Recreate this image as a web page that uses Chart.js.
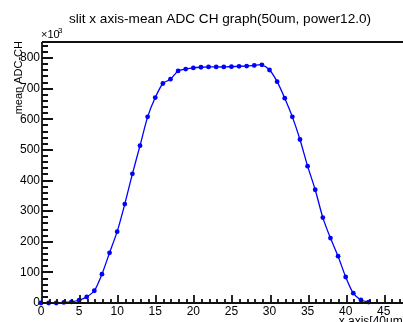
<!DOCTYPE html>
<html>
<head>
<meta charset="utf-8">
<script src="https://cdn.jsdelivr.net/npm/chart.js@4.4.0/dist/chart.umd.min.js"></script>
<style>
  html, body { margin: 0; padding: 0; background: #fff; }
  #wrap { width: 403px; height: 322px; position: relative; }
</style>
</head>
<body>
<div id="wrap"><canvas id="graph"></canvas></div>
<script>
// ===== slit x scan: mean ADC per position =====
const xPositions = [0, 1, 2, 3, 4, 5, 6, 7, 8, 9, 10, 11, 12, 13, 14, 15, 16, 17, 18, 19, 20, 21,
  22, 23, 24, 25, 26, 27, 28, 29, 30, 31, 32, 33, 34, 35, 36, 37, 38, 39, 40, 41, 42, 43];
// mean ADC channel, in units of 10^3
const meanAdc = [0, 0, 0, 2, 4, 9, 20, 40, 94, 164, 233, 323, 422, 514, 608, 671, 717, 731, 758, 764, 768, 770,
  771, 771, 771, 772, 773, 774, 776, 778, 761, 723, 669, 608, 534, 447, 370, 279, 212, 153, 85, 32, 10, 3];

const xTicks = [0, 5, 10, 15, 20, 25, 30, 35, 40, 45];
const yTicks = [0, 100, 200, 300, 400, 500, 600, 700, 800];
const xRange = [0, 47];
const yRange = [0, 855.8];

const FONT = 'Liberation Sans, Arial, Helvetica, sans-serif';
const BLUE = '#0000ff';

function yTicksMinor() {
  const out = [];
  for (let v = yRange[0]; v <= yRange[1]; v += 20) out.push(v);
  return out;
}
function xTicksMinor() {
  const out = [];
  for (let v = xRange[0]; v <= xRange[1]; v += 1) out.push(v);
  return out;
}

// ROOT-like frame: axis lines + inward ticks, then the extra axis texts
const axes = {
  id: 'axes',
  afterDraw(chart) {
    const { ctx, chartArea: a, scales: { x, y } } = chart;
    const L = Math.round(a.left) + 1, B = Math.round(a.bottom), T = Math.round(a.top) + 1;
    ctx.save();
    ctx.strokeStyle = '#111';
    ctx.lineWidth = 1.8;
    ctx.beginPath();
    ctx.moveTo(L, T); ctx.lineTo(chart.width, T);
    ctx.moveTo(L, T); ctx.lineTo(L, B);
    ctx.moveTo(L, B); ctx.lineTo(chart.width, B);

    // y ticks (inward, to the right)
    yTicksMinor().forEach(v => {
      const py = Math.round(y.getPixelForValue(v));
      ctx.moveTo(L, py); ctx.lineTo(L + (v % 100 === 0 ? 11 : 6), py);
    });
    // x ticks (inward, upwards)
    xTicksMinor().forEach(v => {
      const px = Math.round(x.getPixelForValue(v)) + 1;
      ctx.moveTo(px, B); ctx.lineTo(px, B - (v % 5 === 0 ? 8 : 4));
    });
    ctx.stroke();

    ctx.fillStyle = '#000';
    // exponent label
    ctx.font = '11px ' + FONT;
    ctx.textAlign = 'left';
    ctx.textBaseline = 'alphabetic';
    ctx.fillText('\u00d710', a.left, a.top - 3);
    ctx.font = '8px ' + FONT;
    ctx.fillText('3', a.left + 17, a.top - 8);

    // x axis title, right aligned past the edge
    ctx.font = '12px ' + FONT;
    ctx.textAlign = 'right';
    ctx.fillText('x axis[40um]', a.left + x.width + 7, a.bottom + 22);

    // y axis title, rotated, aligned to top
    ctx.font = '11px ' + FONT;
    ctx.translate(21.5, a.top);
    ctx.rotate(-Math.PI / 2);
    ctx.fillText('mean ADC-CH', 0, 0);
    ctx.restore();
  }
};

new Chart(document.getElementById('graph'), {
  type: 'line',
  data: {
    datasets: [{
      label: 'mean ADC',
      data: xPositions.map((xv, i) => ({ x: xv, y: meanAdc[i] })),
      borderColor: BLUE,
      backgroundColor: BLUE,
      borderWidth: 1.3,
      pointRadius: 2.4,
      pointBorderWidth: 0,
      pointBackgroundColor: BLUE,
      tension: 0.25,
      clip: false
    }]
  },
  options: {
    responsive: true,
    maintainAspectRatio: false,
    animation: false,
    layout: { padding: 0 },
    plugins: {
      legend: { display: false },
      tooltip: { enabled: false },
      title: {
        display: true,
        fullSize: false,
        text: 'slit x axis-mean ADC CH graph(50um, power12.0)',
        color: '#000',
        font: { family: FONT, size: 13.6, weight: 'normal', lineHeight: 1.2 },
        padding: { top: 11, bottom: 13.68 }
      }
    },
    scales: {
      x: {
        type: 'linear',
        min: xRange[0], max: xRange[1],
        grid: { display: false, drawTicks: false, tickLength: 0 },
        border: { display: false },
        afterBuildTicks: s => { s.ticks = xTicks.map(v => ({ value: v })); },
        afterFit: s => { s.height = 19; },
        ticks: {
          color: '#000', padding: 1, maxRotation: 0, autoSkip: false,
          font: { family: FONT, size: 12 }
        }
      },
      y: {
        type: 'linear',
        min: yRange[0], max: yRange[1],
        grid: { display: false, drawTicks: false, tickLength: 0 },
        border: { display: false },
        afterBuildTicks: s => { s.ticks = yTicks.map(v => ({ value: v })); },
        afterFit: s => { s.width = 41; },
        ticks: {
          color: '#000', padding: 1, autoSkip: false,
          font: { family: FONT, size: 12 }
        }
      }
    }
  },
  plugins: [axes]
});
</script>
</body>
</html>
